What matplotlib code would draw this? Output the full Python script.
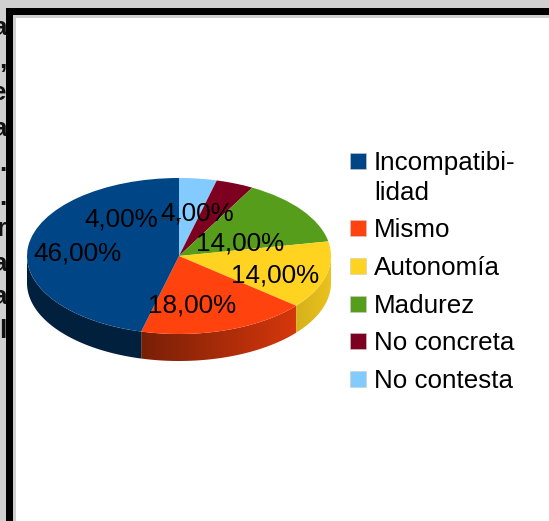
import numpy as np
import matplotlib
matplotlib.use("Agg")
import matplotlib.pyplot as plt
from matplotlib.patches import Rectangle, Polygon

categories = ["No contesta", "No concreta", "Madurez", "Autonomía", "Mismo", "Incompatibi-\nlidad"]
values = [4, 4, 14, 14, 18, 46]
colors = ["#83caff", "#7e0021", "#579d1c", "#ffd320", "#ff420e", "#004586"]
legend_order = [5, 4, 3, 2, 1, 0]
legend_y = [161, 228, 266, 304, 341, 379]
label_pos = [(197, 213), (121, 220), (240, 244), (275, 275), (192, 306), (77, 254)]
cut_letters = ["a", ",", "e", "a", ".", ".", "r", "a", "a", "l"]
cut_base = [35, 68, 100, 136, 171, 205, 236, 271, 304, 338]

W, H = 549, 521
CX, CY, RX, RY, DEPTH = 179, 256, 152, 78, 27
FONT = ["Liberation Sans", "DejaVu Sans"]
fs = 26 * 72 / 100

fig = plt.figure(figsize=(W / 100, H / 100), dpi=100, facecolor="#d0d0d0")

# Background text and frame, in pixel coordinates
bg = fig.add_axes([0, 0, 1, 1], zorder=0)
bg.set_xlim(0, W); bg.set_ylim(H, 0); bg.axis("off")
for ch, y in zip(cut_letters, cut_base):
    bg.text(6.5, y, ch, ha="right", va="baseline", fontsize=fs,
            fontweight="bold", family=FONT, color="#111111", zorder=1)
bg.add_patch(Rectangle((6, 8), W, H, fc="black", ec="none", zorder=2))
bg.add_patch(Rectangle((13, 15), W, H, fc="#d0d0d0", ec="none", zorder=3))
bg.add_patch(Rectangle((16, 18), W, H, fc="white", ec="none", zorder=4))

# Pie, in unit-circle coordinates squashed to an ellipse
ax = fig.add_axes([0, 0, 1, 1], zorder=1)
ax.patch.set_alpha(0)
wedges, _ = ax.pie(values, colors=colors, startangle=90, counterclock=False,
                   radius=1, center=(0, 0), wedgeprops={"linewidth": 0})
for w in wedges:
    w.set_zorder(5)

# Shaded side wall: a gradient image clipped to each visible wall segment
d = DEPTH / RY
edges = np.concatenate([[0], np.cumsum(values)]) / np.sum(values) * 360
for a0, a1, col in zip(edges[:-1], edges[1:], colors):
    lo, hi = max(a0, 90), min(a1, 270)
    if hi <= lo:
        continue
    t = np.radians(np.linspace(lo, hi, 120))
    xs, ys = np.sin(t), np.cos(t)
    pts = np.column_stack([np.r_[xs, xs[::-1]], np.r_[ys, ys[::-1] - d]])
    poly = Polygon(pts, fc="none", ec="none", transform=ax.transData)
    ax.add_patch(poly)
    x0, x1 = xs.min(), xs.max()
    grid = np.linspace(x0, x1, 256)
    s = np.interp(grid, [-1, -0.25, 1], [0.47, 0.47, 0.92])
    base = np.array(matplotlib.colors.to_rgb(col))
    img = (s[:, None] * base)[None, :, :]
    im = ax.imshow(img, extent=(x0, x1, ys.min() - d, ys.max()), aspect="auto",
                   interpolation="bilinear", zorder=3)
    im.set_clip_path(poly)

ax.set_aspect("auto")
ax.set_xlim((0 - CX) / RX, (W - CX) / RX)
ax.set_ylim((CY - H) / RY, CY / RY)
ax.axis("off")

# Overlay: labels and legend in pixel coordinates
fg = fig.add_axes([0, 0, 1, 1], zorder=2)
fg.patch.set_alpha(0)
fg.set_xlim(0, W); fg.set_ylim(H, 0); fg.axis("off")
for v, (x, y) in zip(values, label_pos):
    fg.text(x, y, f"{v:.2f}".replace(".", ",") + "%", ha="center", va="center",
            fontsize=fs, family=FONT, color="black")
fg.plot([160, 180], [218, 218], color="#333333", lw=0.8)
for i, y in zip(legend_order, legend_y):
    fg.add_patch(Rectangle((350, y - 8), 16, 16, fc=colors[i], ec="#cccccc", lw=0.4))
    for k, line in enumerate(categories[i].split("\n")):
        fg.text(374, y + 2 + k * 30, line, ha="left", va="center", fontsize=fs, family=FONT, color="black")

fig.savefig("out.png", dpi=100, facecolor=fig.get_facecolor())
